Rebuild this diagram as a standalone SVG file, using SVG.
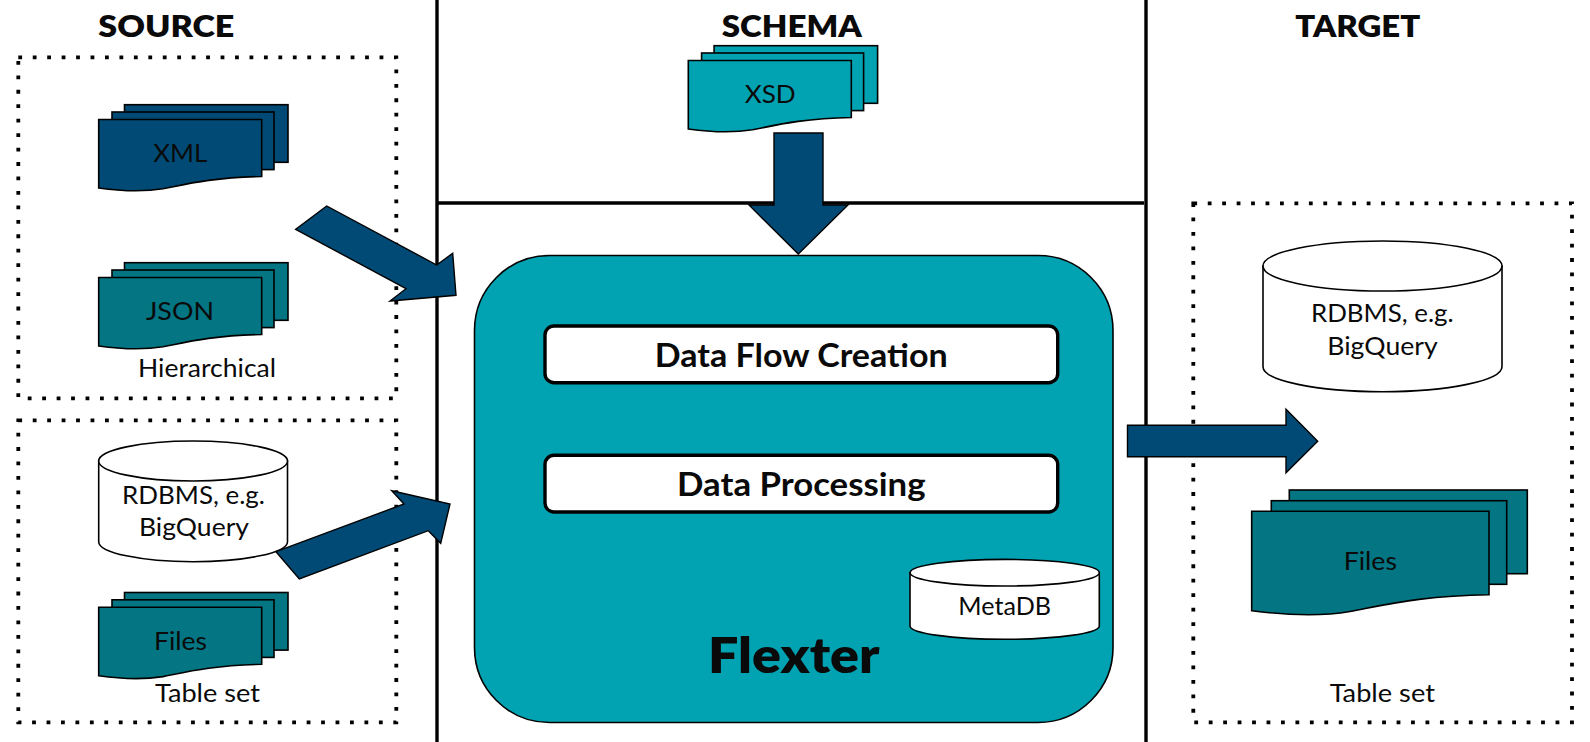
<svg xmlns="http://www.w3.org/2000/svg" xmlns:xlink="http://www.w3.org/1999/xlink" width="1590" height="742" viewBox="0 0 1590 742">
<style>
text{font-family:"Lato","Liberation Sans",sans-serif;fill:#0a0a0a;text-anchor:middle}
.h{font-size:30px;font-weight:800}
.l{font-size:25px;font-weight:400}
.b{font-size:32px;font-weight:700}
.rule{stroke:#000;stroke-width:3.4;fill:none}
.dots{fill:none;stroke:#000;stroke-width:3.8;stroke-dasharray:3.8 10.65}
.dark{fill:#004a75}
.teal{fill:#037583}
.cyan{fill:#01a3b2}
.edge{stroke:#000;stroke-width:1.6}
.cyl{fill:#fff;stroke:#000;stroke-width:1.6}
.arrow{fill:#004a75;stroke:#000;stroke-width:1.4;stroke-linejoin:miter}
.step{fill:#fff;stroke:#000;stroke-width:3.4}
</style>
<defs>
<g id="stack">
<rect class="edge" x="124.5" y="104.7" width="163.5" height="57.6"/>
<rect class="edge" x="112" y="112" width="162" height="57.6"/>
<path class="edge" d="M98.7 119.5H261.7V176.5C212 177.5 187 184 163 188.8C140 192.5 120 191 98.7 188Z"/>
</g>
</defs>
<g id="rules">
<line class="rule" x1="437" y1="0" x2="437" y2="742"/>
<line class="rule" x1="1146" y1="0" x2="1146" y2="742"/>
<line class="rule" x1="437" y1="203" x2="1144" y2="203"/>
</g>
<g id="source-hierarchical-box"><rect class="dots" x="18.3" y="57.3" width="378" height="341"/></g>
<g id="source-table-box"><rect class="dots" x="18.3" y="420.3" width="378" height="302"/></g>
<g id="target-box"><rect class="dots" x="1193.3" y="203.3" width="378.7" height="519"/></g>
<g id="heading-source"><text class="h" x="166.3" y="36.5" textLength="136" lengthAdjust="spacingAndGlyphs">SOURCE</text></g>
<g id="heading-schema"><text class="h" x="791.7" y="36.5" textLength="140" lengthAdjust="spacingAndGlyphs">SCHEMA</text></g>
<g id="heading-target"><text class="h" x="1357.7" y="36.5" textLength="125" lengthAdjust="spacingAndGlyphs">TARGET</text></g>
<g id="xml" class="dark"><use xlink:href="#stack" href="#stack"/><text class="l" x="180.3" y="161.7" textLength="54" lengthAdjust="spacingAndGlyphs">XML</text></g>
<g id="json" class="teal"><use xlink:href="#stack" href="#stack" y="158"/><text class="l" x="180" y="319.7" textLength="68" lengthAdjust="spacingAndGlyphs">JSON</text></g>
<g id="hierarchical-label"><text class="l" x="207" y="377" textLength="138" lengthAdjust="spacingAndGlyphs">Hierarchical</text></g>
<g id="source-rdbms">
<path class="cyl" d="M98.7 461V541.7A94.4 20 0 0 0 287.5 541.7V461Z"/>
<ellipse class="cyl" cx="193.1" cy="461" rx="94.4" ry="20"/>
<text class="l" x="193.5" y="504" textLength="143" lengthAdjust="spacingAndGlyphs">RDBMS, e.g.</text>
<text class="l" x="194" y="536" textLength="110" lengthAdjust="spacingAndGlyphs">BigQuery</text>
</g>
<g id="source-files" class="teal"><use xlink:href="#stack" href="#stack" y="487.8"/><text class="l" x="180.5" y="650" textLength="53" lengthAdjust="spacingAndGlyphs">Files</text></g>
<g id="source-table-label"><text class="l" x="207.5" y="702" textLength="105" lengthAdjust="spacingAndGlyphs">Table set</text></g>
<g id="xsd" class="cyan"><use xlink:href="#stack" href="#stack" x="589.6" y="-59"/><text class="l" x="770.2" y="102.7" textLength="51" lengthAdjust="spacingAndGlyphs">XSD</text></g>
<g id="flexter">
<rect class="cyan edge" x="474.5" y="255.5" width="638.5" height="467" rx="75" ry="75"/>
<g id="data-flow-creation"><rect class="step" x="545" y="326" width="512.7" height="56.7" rx="9"/><text class="b" x="801.3" y="367.3" textLength="293" lengthAdjust="spacingAndGlyphs">Data Flow Creation</text></g>
<g id="data-processing"><rect class="step" x="545" y="455.3" width="512.7" height="56.7" rx="9"/><text class="b" x="801.3" y="496.3" textLength="248.5" lengthAdjust="spacingAndGlyphs">Data Processing</text></g>
<g id="metadb">
<path class="cyl" d="M910 572.7V626A94.6 13.3 0 0 0 1099.3 626V572.7Z"/>
<ellipse class="cyl" cx="1004.7" cy="572.7" rx="94.6" ry="13.3"/>
<text class="l" x="1004.7" y="615.3" textLength="92.7" lengthAdjust="spacingAndGlyphs">MetaDB</text>
</g>
<text x="793.7" y="672.5" font-size="50" font-weight="800" textLength="171.5" lengthAdjust="spacingAndGlyphs">Flexter</text>
</g>
<g id="target-rdbms">
<path class="cyl" d="M1263 266V366.7A119.5 25 0 0 0 1502 366.7V266Z"/>
<ellipse class="cyl" cx="1382.5" cy="266" rx="119.5" ry="25"/>
<text class="l" x="1382.3" y="322.3" textLength="142.7" lengthAdjust="spacingAndGlyphs">RDBMS, e.g.</text>
<text class="l" x="1382.5" y="354.7" textLength="110.4" lengthAdjust="spacingAndGlyphs">BigQuery</text>
</g>
<g id="target-files" class="teal">
<rect class="edge" x="1289.3" y="490" width="238" height="83.7"/>
<rect class="edge" x="1271.3" y="500.7" width="235.4" height="83.6"/>
<path class="edge" d="M1251.7 511.3H1489V594.7C1425 595.5 1390 604 1350 611.5C1318 617 1285 615 1251.7 610.7Z"/>
<text class="l" x="1370.3" y="570" textLength="53.3" lengthAdjust="spacingAndGlyphs">Files</text>
</g>
<g id="target-table-label"><text class="l" x="1382.3" y="702" textLength="105.3" lengthAdjust="spacingAndGlyphs">Table set</text></g>
<g id="connectors">
<polygon class="arrow" points="295.7,229.3 326.7,206 436.7,265 452.7,253.3 456,295.3 390,301 406,288.7"/>
<polygon class="arrow" points="276,551.7 404,504 391.7,490.7 450,504 440.7,543.3 428.3,530.7 299.3,579"/>
<polygon class="arrow" points="774,133 823,133 823,205 848,205 798.3,254 749,205 774,205"/>
<polygon class="arrow" points="1127.5,425.3 1286,425.3 1286,409.3 1317.7,441.3 1286,472.7 1286,456.7 1127.5,456.7"/>
</g>
</svg>
